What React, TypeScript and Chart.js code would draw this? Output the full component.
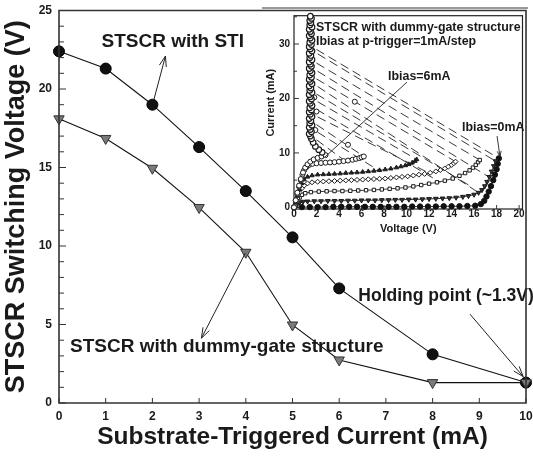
import { useEffect, useRef } from "react";
import { Chart, registerables } from "chart.js";
Chart.register(...registerables);

const FONT = '"Liberation Sans", Arial, Helvetica, sans-serif';

// ---- main chart data ----
const triggerCurrent = [0, 1, 2, 3, 4, 5, 6, 8, 10];
const stiVoltage = [22.4, 21.3, 19.0, 16.3, 13.5, 10.55, 7.3, 3.1, 1.3];
const dummyGateVoltage = [18.1, 16.85, 14.95, 12.45, 9.6, 4.97, 2.74, 1.3, 1.3];
const yMajorLabels = ["0", "5", "10", "15", "20", "25"];

// ---- inset I-V curves (V, mA) ----
const ib0Points = [[0,0],[0.7,0.05],[1.4,0.05],[2.1,0.05],[2.8,0.05],[3.5,0.1],[4.2,0.1],[4.9,0.1],[5.6,0.1],[6.3,0.1],[7.0,0.1],[7.7,0.1],[8.4,0.1],[9.1,0.1],[9.8,0.1],[10.5,0.15],[11.2,0.15],[11.9,0.15],[12.6,0.15],[13.3,0.2],[14.0,0.2],[14.7,0.2],[15.4,0.25],[16.1,0.3],[16.6,0.6],[16.9,1.2],[17.1,2.0],[17.3,2.9],[17.5,3.9],[17.7,5.0],[17.85,6.0],[18.0,7.0],[18.1,8.0],[18.2,9.0]];
const ib1Points = [[0,0],[0.15,0.3],[0.3,0.6],[0.5,0.9],[0.8,1.05],[1.2,1.1],[1.8,1.15],[2.4,1.15],[3.0,1.2],[3.6,1.2],[4.2,1.2],[4.8,1.25],[5.4,1.25],[6.0,1.3],[6.6,1.3],[7.2,1.3],[7.8,1.35],[8.4,1.35],[9.0,1.4],[9.6,1.4],[10.2,1.45],[10.8,1.45],[11.4,1.5],[12.0,1.55],[12.6,1.6],[13.2,1.65],[13.8,1.7],[14.4,1.8],[15.0,1.95],[15.5,2.1],[16.0,2.35],[16.4,2.7],[16.7,3.2],[16.95,3.9],[17.15,4.7],[17.35,5.6],[17.55,6.6],[17.75,7.6],[17.9,8.5]];
const ib2Points = [[0,0],[0.15,0.5],[0.3,1.1],[0.5,1.8],[0.7,2.3],[1.0,2.6],[1.5,2.8],[2.2,2.9],[2.9,2.95],[3.6,3.0],[4.3,3.0],[5.0,3.05],[5.7,3.1],[6.4,3.15],[7.1,3.2],[7.8,3.3],[8.5,3.4],[9.2,3.5],[9.9,3.65],[10.6,3.85],[11.3,4.1],[12.0,4.35],[12.7,4.6],[13.4,4.9],[14.1,5.3],[14.7,5.8],[15.2,6.3],[15.6,6.8],[15.9,7.3],[16.15,7.8],[16.35,8.3],[16.5,8.7]];
const ib3Points = [[0,0],[0.15,0.8],[0.3,1.7],[0.5,2.7],[0.7,3.5],[0.9,4.0],[1.2,4.4],[1.6,4.6],[2.1,4.7],[2.6,4.75],[3.1,4.8],[3.6,4.85],[4.1,4.9],[4.6,4.95],[5.1,5.0],[5.6,5.05],[6.1,5.1],[6.6,5.15],[7.1,5.2],[7.6,5.25],[8.1,5.3],[8.6,5.4],[9.1,5.5],[9.6,5.6],[10.1,5.7],[10.6,5.85],[11.1,6.0],[11.6,6.15],[12.1,6.35],[12.6,6.6],[13.0,6.85],[13.4,7.15],[13.7,7.45],[14.0,7.8],[14.2,8.1],[14.35,8.4]];
const ib4Points = [[0,0],[0.15,1.0],[0.3,2.1],[0.5,3.3],[0.7,4.4],[0.9,5.1],[1.2,5.6],[1.6,5.85],[2.1,6.0],[2.6,6.05],[3.1,6.1],[3.6,6.15],[4.1,6.2],[4.6,6.3],[5.1,6.35],[5.6,6.4],[6.1,6.5],[6.6,6.6],[7.1,6.7],[7.6,6.8],[8.1,6.95],[8.6,7.1],[9.1,7.3],[9.5,7.5],[9.9,7.7],[10.2,7.9],[10.5,8.2],[10.75,8.5],[10.9,8.8]];
const ib5Points = [[0,0],[0.15,1.2],[0.3,2.5],[0.45,3.8],[0.6,5.0],[0.75,6.0],[0.9,6.8],[1.1,7.4],[1.35,7.8],[1.65,8.0],[2.0,8.1],[2.4,8.15],[2.8,8.2],[3.2,8.25],[3.6,8.3],[4.0,8.4],[4.4,8.5],[4.8,8.6],[5.2,8.75],[5.5,8.9],[5.8,9.05],[6.0,9.2],[6.2,9.35]];
const ib6Points = [[0,0],[0.15,1.3],[0.3,2.7],[0.45,4.0],[0.6,5.2],[0.8,6.4],[1.0,7.3],[1.2,7.9],[1.45,8.4],[1.75,8.8],[2.1,9.1],[2.45,9.35],[2.8,9.6]];
const holdingPoints = [[2.5,10.1],[2.2,10.6],[1.9,11.2],[1.7,11.9],[1.55,12.6],[1.45,13.1],[1.35,13.5],[1.55,13.9],[1.45,14.3],[1.35,14.7],[1.6,15.1],[1.4,15.5],[1.5,15.9],[1.35,16.3],[1.6,16.7],[1.45,17.1],[1.35,17.5],[1.55,17.9],[1.4,18.3],[1.6,18.7],[1.45,19.1],[1.35,19.5],[1.55,19.9],[1.45,20.3],[1.35,20.7],[1.6,21.1],[1.4,21.5],[1.5,21.9],[1.35,22.3],[1.6,22.7],[1.45,23.1],[1.35,23.5],[1.55,23.9],[1.4,24.3],[1.6,24.7],[1.45,25.1],[1.35,25.5],[1.55,25.9],[1.45,26.3],[1.35,26.7],[1.6,27.1],[1.4,27.5],[1.5,27.9],[1.35,28.3],[1.6,28.7],[1.45,29.1],[1.35,29.5],[1.55,29.9],[1.4,30.3],[1.6,30.7],[1.45,31.1],[1.35,31.5],[1.55,31.9],[1.45,32.3],[1.35,32.7],[1.6,33.1],[1.4,33.5],[1.5,33.9],[1.4,34.3],[1.55,34.7],[1.45,35.1]];
const strayPoints = [[5.4,19.4],[4.8,11.5],[1.9,14.2],[2.0,17.6],[1.8,20.2]];
// dashed snapback transitions: [V1, I1, V2, I2]
const snapbackSegments = [
  [2.0, 29.0, 18.2, 9.0],
  [2.1, 28.2, 17.9, 8.5],
  [2.0, 26.5, 16.5, 8.7],
  [2.1, 25.0, 17.3, 5.6],
  [2.0, 23.6, 14.35, 8.4],
  [2.1, 22.2, 16.4, 2.7],
  [2.0, 20.8, 15.6, 4.0],
  [2.1, 19.4, 10.9, 8.8],
  [2.0, 18.0, 13.0, 4.6],
  [2.1, 16.6, 12.0, 6.3],
  [2.0, 15.2, 6.2, 9.35],
  [2.1, 13.8, 7.5, 6.8],
  [2.0, 12.4, 4.5, 8.6],
];

function drawArrow(ctx: CanvasRenderingContext2D, x1: number, y1: number, x2: number, y2: number, head: number) {
  ctx.beginPath();
  ctx.moveTo(x1, y1);
  ctx.lineTo(x2, y2);
  ctx.stroke();
  if (head > 0) {
    const a = Math.atan2(y2 - y1, x2 - x1);
    const s = 0.33;
    ctx.beginPath();
    ctx.moveTo(x2 - head * Math.cos(a - s), y2 - head * Math.sin(a - s));
    ctx.lineTo(x2, y2);
    ctx.lineTo(x2 - head * Math.cos(a + s), y2 - head * Math.sin(a + s));
    ctx.stroke();
  }
}

const noPad = (s: any) => {
  s.paddingTop = 0;
  s.paddingBottom = 0;
  s.paddingLeft = 0;
  s.paddingRight = 0;
};

const mainDeco = {
  id: "mainDeco",
  beforeDatasetsDraw(chart: any) {
    const { ctx, chartArea: a, scales } = chart;
    const x = scales.x, y = scales.y;
    ctx.save();
    ctx.strokeStyle = "#333";
    ctx.lineWidth = 1;
    y.ticks.forEach((t: any) => {
      const py = y.getPixelForValue(t.value);
      const len = t.value % 5 === 0 ? 7 : 5;
      ctx.beginPath();
      ctx.moveTo(a.left, py);
      ctx.lineTo(a.left + len, py);
      ctx.stroke();
    });
    x.ticks.forEach((t: any) => {
      const px = x.getPixelForValue(t.value);
      ctx.beginPath();
      ctx.moveTo(px, a.bottom);
      ctx.lineTo(px, a.bottom - 5);
      ctx.stroke();
    });
    ctx.restore();
  },
  afterDatasetsDraw(chart: any) {
    const { ctx, scales } = chart;
    const X = (v: number) => scales.x.getPixelForValue(v);
    const Y = (v: number) => scales.y.getPixelForValue(v);
    ctx.save();
    ctx.fillStyle = "#1a1a1a";
    ctx.textBaseline = "middle";
    ctx.textAlign = "left";
    ctx.font = `bold 19px ${FONT}`;
    ctx.fillText("STSCR with STI", X(0.91), Y(23.0));
    ctx.fillText("STSCR with dummy-gate structure", X(0.235), Y(3.6));
    ctx.font = `bold 17.5px ${FONT}`;
    ctx.fillText("Holding point (~1.3V)", X(6.41), Y(6.82));
    ctx.strokeStyle = "#222";
    ctx.lineWidth = 1;
    drawArrow(ctx, X(2.03), Y(19.3), X(2.28), Y(22.1), 11);
    drawArrow(ctx, X(3.99), Y(9.55), X(3.05), Y(4.13), 11);
    drawArrow(ctx, X(8.8), Y(5.66), X(9.94), Y(1.68), 11);
    ctx.restore();
  },
  afterDraw(chart: any) {
    const { ctx, chartArea: a } = chart;
    ctx.save();
    ctx.strokeStyle = "#333333";
    ctx.lineWidth = 1.6;
    ctx.beginPath();
    ctx.moveTo(a.left, a.bottom);
    ctx.lineTo(a.left, a.top);
    ctx.lineTo(a.right, a.top);
    ctx.lineTo(a.right, a.bottom);
    ctx.closePath();
    ctx.stroke();
    ctx.restore();
  },
};

const insetDeco = {
  id: "insetDeco",
  beforeDatasetsDraw(chart: any) {
    const { ctx, chartArea: a, scales, width } = chart;
    const x = scales.x, y = scales.y;
    ctx.save();
    ctx.strokeStyle = "#777";
    ctx.lineWidth = 1.5;
    ctx.beginPath();
    ctx.moveTo(0, 2);
    ctx.lineTo(width, 2);
    ctx.stroke();
    ctx.strokeStyle = "#222";
    ctx.lineWidth = 1.2;
    ctx.strokeRect(a.left, a.top, a.right - a.left, a.bottom - a.top);
    ctx.lineWidth = 0.9;
    y.ticks.forEach((t: any) => {
      const py = y.getPixelForValue(t.value);
      const len = t.value % 10 === 0 ? 5 : 3;
      ctx.beginPath();
      ctx.moveTo(a.left, py);
      ctx.lineTo(a.left + len, py);
      ctx.stroke();
    });
    x.ticks.forEach((t: any) => {
      const px = x.getPixelForValue(t.value);
      ctx.beginPath();
      ctx.moveTo(px, a.bottom);
      ctx.lineTo(px, a.bottom - 4);
      ctx.stroke();
    });
    ctx.fillStyle = "#1a1a1a";
    ctx.font = `bold 11px ${FONT}`;
    ctx.textAlign = "center";
    ctx.textBaseline = "middle";
    ctx.translate(9, a.top + (a.bottom - a.top) * 0.45);
    ctx.rotate(-Math.PI / 2);
    ctx.fillText("Current (mA)", 0, 0);
    ctx.restore();
  },
  afterDatasetsDraw(chart: any) {
    const { ctx, scales } = chart;
    const X = (v: number) => scales.x.getPixelForValue(v);
    const Y = (v: number) => scales.y.getPixelForValue(v);
    ctx.save();
    ctx.fillStyle = "#1a1a1a";
    ctx.textBaseline = "middle";
    ctx.textAlign = "left";
    ctx.font = `bold 12.4px ${FONT}`;
    ctx.fillText("STSCR with dummy-gate structure", X(1.96), Y(33.1));
    ctx.fillText("Ibias at p-trigger=1mA/step", X(1.96), Y(30.5));
    ctx.fillText("Ibias=6mA", X(8.36), Y(24.1));
    ctx.fillText("Ibias=0mA", X(14.93), Y(14.6));
    ctx.strokeStyle = "#222";
    ctx.lineWidth = 0.9;
    drawArrow(ctx, X(10.04), Y(23.0), X(2.76), Y(9.27), 0);
    drawArrow(ctx, X(18.04), Y(13.1), X(18.3), Y(9.3), 6);
    ctx.restore();
  },
};

const toXY = (pts: number[][]) => pts.map(([x, y]) => ({ x, y }));

export default function App() {
  const mainRef = useRef<HTMLCanvasElement>(null);
  const insetRef = useRef<HTMLCanvasElement>(null);

  useEffect(() => {
    const main = new Chart(mainRef.current as HTMLCanvasElement, {
      type: "line",
      data: {
        datasets: [
          {
            label: "STSCR with dummy-gate structure",
            data: triggerCurrent.map((x, i) => ({ x, y: dummyGateVoltage[i] })),
            borderColor: "#111",
            borderWidth: 1.1,
            pointStyle: "triangle",
            rotation: 180,
            pointRadius: 6,
            pointBackgroundColor: "#7a7a7a",
            pointBorderColor: "#333",
            pointBorderWidth: 1,
            clip: false,
          } as any,
          {
            label: "STSCR with STI",
            data: triggerCurrent.map((x, i) => ({ x, y: stiVoltage[i] })),
            borderColor: "#111",
            borderWidth: 1.1,
            pointStyle: "circle",
            pointRadius: 5.5,
            pointBackgroundColor: "#111",
            pointBorderColor: "#000",
            pointBorderWidth: 1,
            clip: false,
          } as any,
        ],
      },
      options: {
        responsive: false,
        animation: false,
        devicePixelRatio: 1,
        events: [],
        layout: { padding: { left: 0, right: 6, top: 10.5, bottom: 0 } },
        plugins: { legend: { display: false }, tooltip: { enabled: false } },
        scales: {
          x: {
            type: "linear",
            min: 0,
            max: 10,
            afterFit: (s: any) => { s.height = 53; noPad(s); },
            grid: { display: false, drawTicks: false },
            border: { display: false },
            ticks: { stepSize: 1, autoSkip: false, padding: 6, color: "#1a1a1a", font: { family: FONT, size: 12, weight: "bold" } },
            title: { display: true, text: "Substrate-Triggered Current (mA)", color: "#1a1a1a", padding: { top: 0, bottom: 4.5 }, font: { family: FONT, size: 24.5, weight: "bold" } },
          },
          y: {
            type: "linear",
            min: 0,
            max: 25,
            afterFit: (s: any) => { s.width = 59; noPad(s); },
            grid: { display: false, drawTicks: false },
            border: { display: false },
            ticks: {
              stepSize: 1,
              autoSkip: false,
              padding: 7,
              color: "#1a1a1a",
              font: { family: FONT, size: 12, weight: "bold" },
              callback: (v: any) => (Number(v) % 5 === 0 ? yMajorLabels[Number(v) / 5] : ""),
            },
            title: { display: true, text: "STSCR Switching Voltage (V)", color: "#1a1a1a", padding: { top: 0, bottom: 0 }, font: { family: FONT, size: 27, weight: "bold" } },
          },
        },
      } as any,
      plugins: [mainDeco],
    });

    const curve = (label: string, pts: number[][], style: any) => ({
      label,
      data: toXY(pts),
      showLine: true,
      borderColor: "#222",
      borderWidth: 0.9,
      pointRadius: 2.5,
      pointBorderWidth: 1,
      pointBorderColor: "#1a1a1a",
      clip: false,
      ...style,
    });
    const dashedData: any[] = [];
    snapbackSegments.forEach(([v1, i1, v2, i2]) => {
      dashedData.push({ x: v1, y: i1 }, { x: v2, y: i2 }, { x: v2, y: null });
    });

    const inset = new Chart(insetRef.current as HTMLCanvasElement, {
      type: "line",
      data: {
        datasets: [
          curve("hold", holdingPoints, { pointStyle: "circle", pointBackgroundColor: "#fff", pointRadius: 2.8, pointBorderWidth: 1.2 }),
          curve("Ibias=6mA", ib6Points, { pointStyle: "circle", pointBackgroundColor: "#fff" }),
          curve("Ibias=5mA", ib5Points, { pointStyle: "circle", pointBackgroundColor: "#fff" }),
          curve("Ibias=4mA", ib4Points, { pointStyle: "triangle", pointBackgroundColor: "#222" }),
          curve("Ibias=3mA", ib3Points, { pointStyle: "rectRot", pointBackgroundColor: "#fff" }),
          curve("Ibias=2mA", ib2Points, { pointStyle: "rect", pointRadius: 2.4, pointBackgroundColor: "#fff" }),
          curve("Ibias=1mA", ib1Points, { pointStyle: "triangle", rotation: 180, pointBackgroundColor: "#333", pointRadius: 2.7 }),
          curve("Ibias=0mA", ib0Points, { pointStyle: "circle", pointBackgroundColor: "#111", pointBorderColor: "#111", pointRadius: 2.7 }),
          curve("stray", strayPoints, { showLine: false, pointStyle: "circle", pointBackgroundColor: "#fff" }),
          {
            label: "snapback",
            data: dashedData,
            showLine: true,
            spanGaps: false,
            borderColor: "#222",
            borderWidth: 0.9,
            borderDash: [9, 5],
            pointRadius: 0,
            clip: false,
          } as any,
        ],
      },
      options: {
        responsive: false,
        animation: false,
        devicePixelRatio: 1,
        events: [],
        layout: { padding: { left: 0, right: 5.5, top: 9.7, bottom: 0 } },
        plugins: { legend: { display: false }, tooltip: { enabled: false } },
        scales: {
          x: {
            type: "linear",
            min: 0,
            max: 20.3,
            afterFit: (s: any) => { s.height = 27; noPad(s); },
            grid: { display: false, drawTicks: false },
            border: { display: false },
            ticks: { stepSize: 2, includeBounds: false, autoSkip: false, maxRotation: 0, padding: -1, color: "#1a1a1a", font: { family: FONT, size: 10, weight: "bold" } },
            title: { display: true, text: "Voltage (V)", color: "#1a1a1a", padding: { top: 0, bottom: 0 }, font: { family: FONT, size: 11, weight: "bold" } },
          },
          y: {
            type: "linear",
            min: -0.3,
            max: 35.2,
            afterFit: (s: any) => { s.width = 32; noPad(s); },
            grid: { display: false, drawTicks: false },
            border: { display: false },
            ticks: {
              stepSize: 5,
              includeBounds: false,
              autoSkip: false,
              padding: 4,
              color: "#1a1a1a",
              font: { family: FONT, size: 10, weight: "bold" },
              callback: (v: any) => (Number(v) % 10 === 0 ? String(v) : ""),
            },
          },
        },
      } as any,
      plugins: [insetDeco],
    });

    return () => {
      main.destroy();
      inset.destroy();
    };
  }, []);

  return (
    <div style={{ position: "absolute", left: 0, top: 0, width: 533, height: 456, background: "#fff" }}>
      <canvas ref={mainRef} width={533} height={456} style={{ position: "absolute", left: 0, top: 0, width: 533, height: 456 }} />
      <canvas ref={insetRef} width={266} height={230} style={{ position: "absolute", left: 262, top: 6, width: 266, height: 230 }} />
    </div>
  );
}
